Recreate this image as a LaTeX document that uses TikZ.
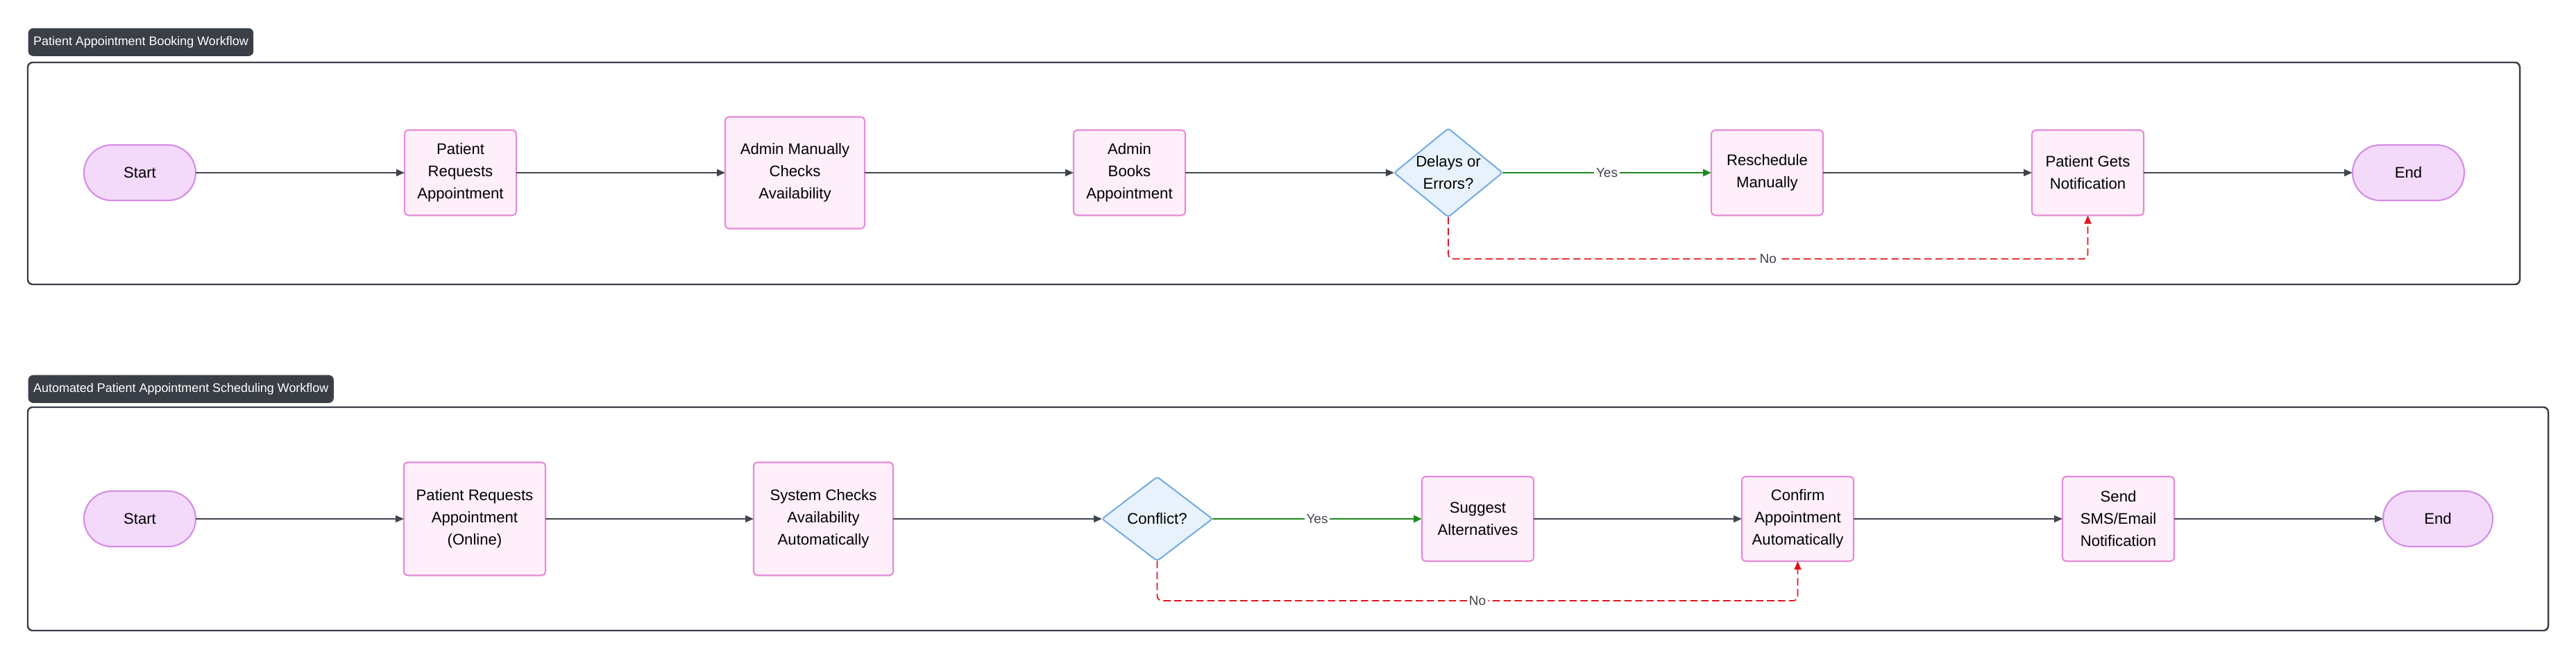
\documentclass[tikz,border=0pt]{standalone}
\usepackage{fontspec}
\setmainfont{Liberation Sans}
\usetikzlibrary{
  arrows.meta,
  positioning,
  shapes.geometric
}
\definecolor{wfdark}{HTML}{3A3F47}
\definecolor{wfline}{HTML}{3F444B}
\definecolor{wfpill}{HTML}{F3DAFB}
\definecolor{wfpillline}{HTML}{D48CE6}
\definecolor{wftask}{HTML}{FEEFFA}
\definecolor{wftaskline}{HTML}{E68AD8}
\definecolor{wfdiam}{HTML}{E8F2FC}
\definecolor{wfdiamline}{HTML}{76AEE0}
\definecolor{wfyes}{HTML}{1D8A1D}
\definecolor{wfno}{HTML}{E0141E}

\begin{document}
\begin{tikzpicture}[
      pill/.style={
        rectangle, rounded corners=0.4cm, outer sep=0pt,
        minimum width=1.61cm, minimum height=0.8cm,
        draw=wfpillline, line width=0.6pt, fill=wfpill,
        font=\fontsize{6.3}{9.1}\selectfont, align=center
      },
      task/.style={
        rectangle, rounded corners=1.5pt, outer sep=0pt,
        minimum width=1.61cm, minimum height=1.23cm,
        draw=wftaskline, line width=0.6pt, fill=wftask,
        font=\fontsize{6.3}{9.1}\selectfont, align=center
      },
      decision/.style={
        diamond, rounded corners=1pt, inner sep=-1pt, outer sep=0pt,
        minimum width=1.56cm, minimum height=1.19cm,
        draw=wfdiamline, line width=0.6pt, fill=wfdiam,
        font=\fontsize{6.3}{9.1}\selectfont, align=center
      },
      heading/.style={
        rectangle, rounded corners=2pt, anchor=north west,
        minimum height=0.33cm, inner xsep=0.075cm, fill=wfdark,
        font=\fontsize{5.1}{6}\selectfont\color{white}
      },
      frame/.style={draw=wfdark, line width=0.7pt, rounded corners=2pt},
      flow/.style={-{Triangle[length=0.12cm, width=0.1cm]}, line width=0.5pt, wfline},
      yes/.style={-{Triangle[length=0.12cm, width=0.1cm]}, line width=0.85pt, wfyes},
      no/.style={-{Triangle[length=0.12cm, width=0.1cm]}, line width=0.5pt, wfno,
        dash pattern=on 3pt off 1.5pt, rounded corners=2pt},
      lbl/.style={fill=white, inner sep=0.8pt, text=wfline,
        font=\fontsize{5.4}{6}\selectfont}
    ]
      \useasboundingbox (0,0) rectangle (37.12,-9.5);

      % Manual booking
      \node[heading] (title1) at (0.40,-0.40) {Patient Appointment Booking Workflow};
      \draw[frame] (0.40,-0.90) rectangle (36.31,-4.10);

      \node[pill] (start1) at (2.015,-2.49) {Start};
      \node[task, right=3.01cm of start1] (req1) {Patient\\Requests\\Appointment};
      \node[task, right=3.01cm of req1, minimum width=2.01cm, minimum height=1.61cm] (check1) {Admin Manually\\Checks\\Availability};
      \node[task, right=3.01cm of check1] (book1) {Admin\\Books\\Appointment};
      \node[decision, right=3.01cm of book1] (delay1) {Delays or\\Errors?};
      \node[task, right=3.01cm of delay1] (resched1) {Reschedule\\Manually};
      \node[task, right=3.01cm of resched1] (notify1) {Patient Gets\\Notification};
      \node[pill, right=3.01cm of notify1] (end1) {End};

      \draw[flow] (start1) -- (req1);
      \draw[flow] (req1) -- (check1);
      \draw[flow] (check1) -- (book1);
      \draw[flow] (book1) -- (delay1);
      \draw[yes] (delay1) -- node[lbl] {Yes} (resched1);
      \draw[flow] (resched1) -- (notify1);
      \draw[flow] (notify1) -- (end1);
      \draw[no] (delay1.south) -- ++(0,-0.605) -| node[lbl, pos=0.25] {No} (notify1.south);

      % Automated scheduling
      \node[heading] (title2) at (0.40,-5.40) {Automated Patient Appointment Scheduling Workflow};
      \draw[frame] (0.40,-5.87) rectangle (36.72,-9.09);

      \node[pill] (start2) at (2.015,-7.48) {Start};
      \node[task, right=3cm of start2, minimum width=2.04cm, minimum height=1.63cm] (req2) {Patient Requests\\Appointment\\(Online)};
      \node[task, right=3cm of req2, minimum width=2.01cm, minimum height=1.63cm] (sys2) {System Checks\\Availability\\Automatically};
      \node[decision, right=3.01cm of sys2, minimum width=1.59cm, minimum height=1.21cm] (conflict2) {Conflict?};
      \node[task, right=3.02cm of conflict2, minimum height=1.22cm] (suggest2) {Suggest\\Alternatives};
      \node[task, right=3cm of suggest2, minimum height=1.22cm] (confirm2) {Confirm\\Appointment\\Automatically};
      \node[task, right=3.01cm of confirm2, minimum height=1.22cm] (sms2) {Send\\SMS/Email\\Notification};
      \node[pill, right=3.01cm of sms2, minimum width=1.58cm] (end2) {End};

      \draw[flow] (start2) -- (req2);
      \draw[flow] (req2) -- (sys2);
      \draw[flow] (sys2) -- (conflict2);
      \draw[yes] (conflict2) -- node[lbl] {Yes} (suggest2);
      \draw[flow] (suggest2) -- (confirm2);
      \draw[flow] (confirm2) -- (sms2);
      \draw[flow] (sms2) -- (end2);
      \draw[no] (conflict2.south) -- ++(0,-0.575) -| node[lbl, pos=0.25] {No} (confirm2.south);
    \end{tikzpicture}
\end{document}
